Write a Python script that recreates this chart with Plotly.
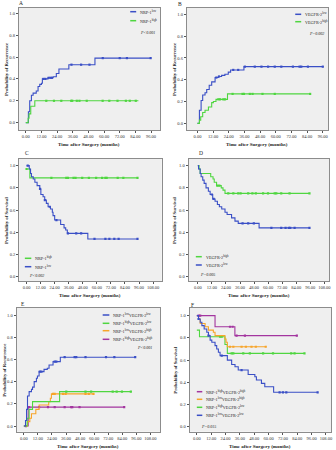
import plotly.graph_objects as go

W, H = 336, 450

# ---------------- data (months, probability) ----------------
# Panel A: recurrence by NRP-1
A_low_t = [0, 2, 3, 4.3, 5.6, 8, 9.4, 10.7, 12, 12.7, 17, 21, 23.4, 25.4, 33, 53]
A_low_v = [0, 0.10, 0.20, 0.25, 0.27, 0.29, 0.33, 0.35, 0.36, 0.40, 0.41, 0.42, 0.45, 0.49, 0.53, 0.59]
A_low_end = 95.7
A_low_c = [13.5, 15, 17.5, 19, 20, 35, 42.4, 48.8, 59, 72, 77.5, 95.7]
A_high_t = [0, 1.8, 2.5, 3.8, 6.9]
A_high_v = [0, 0.04, 0.08, 0.15, 0.20]
A_high_end = 86.3
A_high_c = [15.7, 21.6, 27.2, 34.8, 35.6, 39.1, 41.1, 46.7, 58.9, 64, 70.3, 76.7, 79.7, 84.3]

# Panel B: recurrence by VEGFR-2
B_low_t = [0, 1.5, 2.8, 4, 5.8, 7.1, 9, 10.9, 13.5, 16, 18.5, 21, 23.6, 25.4, 35.6]
B_low_v = [0, 0.12, 0.21, 0.26, 0.28, 0.31, 0.35, 0.38, 0.42, 0.43, 0.44, 0.45, 0.47, 0.49, 0.52]
B_low_end = 96
B_low_c = [14.5, 16.5, 27.4, 31.2, 36.3, 43.9, 49, 54.1, 59.2, 64.2, 73.1, 78.2, 79.5, 84.6, 96]
B_high_t = [0, 1.5, 2.5, 4, 5.8, 8.4, 10.9, 12.2, 14.2, 23]
B_high_v = [0, 0.03, 0.06, 0.10, 0.12, 0.15, 0.19, 0.20, 0.22, 0.27]
B_high_end = 86.3
B_high_c = [16, 17.3, 19.8, 21.1, 26.9, 34.5, 35.6, 40.1, 42.2, 49.8, 59.2, 86.3]

# Panel C: survival by NRP-1
C_high_t = [0, 2.8]
C_high_v = [0.97, 0.89]
C_high_end = 94.7
C_high_c = [0, 21.2, 33.9, 35.3, 40.1, 41.8, 47.5, 53.2, 59.4, 64.5, 67.3, 68.4, 77.8, 82.6, 94.7]
C_low_t = [0, 2.3, 3.4, 4.2, 5.7, 7.1, 9.0, 11.3, 12.2, 14.1, 15.5, 16.9, 18.4, 20.4, 22, 22.6, 24,
           29.1, 32.0, 33.4, 34.8, 52.3]
C_low_v = [1.0, 0.97, 0.93, 0.90, 0.88, 0.85, 0.82, 0.79, 0.74, 0.72, 0.69, 0.66, 0.63, 0.61, 0.58,
           0.55, 0.51, 0.47, 0.44, 0.42, 0.39, 0.34]
C_low_end = 94.7
C_low_c = [1.0, 11.5, 15.6, 19.8, 25.5, 35.3, 42.4, 46.6, 58, 67.3, 70.7, 74.9, 78.6, 94.7]

# Panel D: survival by VEGFR-2
D_high_t = [0, 1.1, 2, 11, 13, 14, 16, 20, 21.5, 23.2]
D_high_v = [1.0, 0.97, 0.93, 0.90, 0.88, 0.85, 0.82, 0.80, 0.78, 0.75]
D_high_end = 95.3
D_high_c = [16.7, 18.4, 26, 30.3, 34.5, 36.5, 43, 46.6, 49.5, 55.7, 59.9, 65.6, 67, 71.2, 78.3, 95.3]
D_low_t = [0, 0.6, 2, 2.8, 4.2, 5.4, 7, 9, 10.5, 12.7, 14.7, 16.7, 18.4, 20.4, 23.2, 25, 28.8,
           31.7, 34.5, 52.3]
D_low_v = [1.0, 0.97, 0.93, 0.90, 0.87, 0.84, 0.80, 0.77, 0.74, 0.70, 0.68, 0.65, 0.63, 0.61,
           0.58, 0.56, 0.53, 0.50, 0.48, 0.44]
D_low_end = 95.3
D_low_c = [12, 13.5, 38.2, 43, 47.8, 62.8, 71.2, 74.9, 77.7, 78.9, 82.6, 95.3]

# Panel E: recurrence by combined groups
E_ll_t = [0, 1.4, 2.3, 3.1, 4.5, 6.5, 7.4, 8.8, 10.7, 11.6, 13, 17.2, 20, 21.5, 24.9, 31.1]
E_ll_v = [0, 0.05, 0.15, 0.27, 0.31, 0.33, 0.35, 0.40, 0.43, 0.45, 0.49, 0.51, 0.52, 0.55, 0.58, 0.62]
E_ll_end = 95
E_ll_c = [13.6, 15, 26.3, 27.7, 34.8, 43.3, 44.7, 52.6, 70.1, 77.2, 95]
E_hl_t = [0, 2.8, 4.5, 7.4, 30.5]
E_hl_v = [0, 0.07, 0.15, 0.22, 0.31]
E_hl_end = 91.3
E_hl_c = [36.2, 52.6, 57.4, 75.8, 79.2, 83.7, 91.3]
E_lh_t = [0, 3.1, 5.1, 6.5, 10.2, 13, 21.2, 22.6, 23.5]
E_lh_v = [0, 0.04, 0.07, 0.11, 0.15, 0.19, 0.22, 0.25, 0.29]
E_lh_end = 59.4
E_lh_c = [24.9, 26.3, 33.4, 35.6, 52.6, 55.4, 59.4]
E_hh_t = [0, 3.7]
E_hh_v = [0, 0.17]
E_hh_end = 85.6
E_hh_c = [1.7, 4.5, 13, 20.6, 26.3, 34.8, 40.4, 41.3, 47.5, 85.6]

# Panel F: survival by combined groups
F_hh_t = [0, 15.2, 31.8]
F_hh_v = [1.0, 0.90, 0.82]
F_hh_end = 83.6
F_hh_c = [1.4, 2.8, 27.7, 29.9, 33.2, 40.2, 83.6]
F_lh_t = [0, 1.4, 2.8, 6.9, 9.7, 13.8, 15.2, 23.5, 24.4, 25.5]
F_lh_v = [1.0, 0.97, 0.93, 0.90, 0.87, 0.85, 0.82, 0.79, 0.76, 0.72]
F_lh_end = 57.6
F_lh_c = [27.7, 30.5, 37.4, 41, 45.7, 49.3, 57.6]
F_hl_t = [0, 2.2, 23.5, 25.5]
F_hl_v = [0.87, 0.81, 0.74, 0.66]
F_hl_end = 90
F_hl_c = [19.4, 20.8, 29.1, 30.5, 38.8, 44.3, 55.4, 63.7, 78.9, 81.7, 90]
F_ll_t = [0, 1.4, 2.8, 4.2, 6.1, 8.3, 9.7, 11.1, 12.5, 15.2, 16.6, 18, 19.4, 25.5, 29.1, 31.9,
          34.6, 42.9, 48.5, 49.8, 54, 56.8, 64.2]
F_ll_v = [1.0, 0.97, 0.94, 0.91, 0.88, 0.85, 0.82, 0.78, 0.76, 0.73, 0.70, 0.67, 0.64, 0.60,
          0.56, 0.54, 0.51, 0.47, 0.45, 0.42, 0.39, 0.36, 0.31]
F_ll_end = 101
F_ll_c = [1.4, 9.7, 20.8, 37.4, 69.2, 72, 74.8, 101]

X_TICKS_96 = [0, 12, 24, 36, 48, 60, 72, 84, 96]
X_TICKS_108 = [0, 12, 24, 36, 48, 60, 72, 84, 96, 108]
Y_TICKS = [0, 0.2, 0.4, 0.6, 0.8, 1.0]

BLUE = "#3a4fc6"
GREEN = "#4fd640"
ORANGE = "#f7a52a"
PURPLE = "#a3359f"

SERIF = "Liberation Serif, DejaVu Serif, serif"

fig = go.Figure()


def step_value(ts, vs, t):
    val = vs[0]
    for ti, vi in zip(ts, vs):
        if ti <= t:
            val = vi
    return val


def add_curve(k, ts, vs, end, cens, color):
    xs = list(ts) + [end]
    ys = list(vs) + [vs[-1]]
    ax = "" if k == 1 else str(k)
    fig.add_trace(go.Scatter(x=xs, y=ys, mode="lines", line=dict(color=color, width=1.1, shape="hv"),
                             xaxis="x" + ax, yaxis="y" + ax, showlegend=False, hoverinfo="skip"))
    cy = [step_value(ts, vs, c) for c in cens]
    fig.add_trace(go.Scatter(x=cens, y=cy, mode="markers",
                             marker=dict(symbol="square", size=2.2, color=color, line=dict(width=0)),
                             xaxis="x" + ax, yaxis="y" + ax, showlegend=False, hoverinfo="skip"))


add_curve(1, A_low_t, A_low_v, A_low_end, A_low_c, BLUE)
add_curve(1, A_high_t, A_high_v, A_high_end, A_high_c, GREEN)
add_curve(2, B_low_t, B_low_v, B_low_end, B_low_c, BLUE)
add_curve(2, B_high_t, B_high_v, B_high_end, B_high_c, GREEN)
add_curve(3, C_high_t, C_high_v, C_high_end, C_high_c, GREEN)
add_curve(3, C_low_t, C_low_v, C_low_end, C_low_c, BLUE)
add_curve(4, D_high_t, D_high_v, D_high_end, D_high_c, GREEN)
add_curve(4, D_low_t, D_low_v, D_low_end, D_low_c, BLUE)
add_curve(5, E_hh_t, E_hh_v, E_hh_end, E_hh_c, PURPLE)
add_curve(5, E_lh_t, E_lh_v, E_lh_end, E_lh_c, ORANGE)
add_curve(5, E_hl_t, E_hl_v, E_hl_end, E_hl_c, GREEN)
add_curve(5, E_ll_t, E_ll_v, E_ll_end, E_ll_c, BLUE)
add_curve(6, F_hl_t, F_hl_v, F_hl_end, F_hl_c, GREEN)
add_curve(6, F_lh_t, F_lh_v, F_lh_end, F_lh_c, ORANGE)
add_curve(6, F_hh_t, F_hh_v, F_hh_end, F_hh_c, PURPLE)
add_curve(6, F_ll_t, F_ll_v, F_ll_end, F_ll_c, BLUE)

# panel boxes in pixels: left, right, top, bottom ; x range ; y range ; ticks
panels = [
    (19, 161, 8, 130, [-5.3, 102.9], [-0.067, 1.048], X_TICKS_96),
    (188, 330, 8, 130, [-8.1, 100.0], [-0.061, 1.058], X_TICKS_96),
    (19.3, 162.7, 159, 281, [-6.3, 115.4], [-0.039, 1.06], X_TICKS_108),
    (189.7, 331, 159, 281, [-7.9, 112.0], [-0.039, 1.06], X_TICKS_108),
    (16.7, 161, 308, 431.7, [-6.2, 116.2], [-0.051, 1.063], X_TICKS_108),
    (190.7, 333, 308, 431.7, [-6.1, 112.2], [-0.045, 1.069], X_TICKS_108),
]

axis_common = dict(showline=True, mirror=True, linecolor="#8c8c8c", linewidth=1,
                   ticks="outside", ticklen=2, tickwidth=1, tickcolor="#555",
                   showgrid=False, zeroline=False,
                   tickfont=dict(family=SERIF, size=4.5, color="#333"))

layout = {}
for i, (l, r, t, b, xr, yr, xt) in enumerate(panels, start=1):
    s = "" if i == 1 else str(i)
    layout["xaxis" + s] = dict(domain=[l / W, r / W], range=xr, anchor="y" + s,
                               tickvals=xt, ticktext=["%.2f" % v for v in xt], **axis_common)
    layout["yaxis" + s] = dict(domain=[1 - b / H, 1 - t / H], range=yr, anchor="x" + s,
                               tickvals=Y_TICKS, ticktext=["%.1f" % v for v in Y_TICKS], **axis_common)

fig.update_layout(width=W, height=H, margin=dict(l=0, r=0, t=0, b=0),
                  paper_bgcolor="white", plot_bgcolor="#efefef", **layout)

shapes = []
annots = []


def px(x):
    return x / W


def py(y):
    return 1 - y / H


def text(x, y, s, size=4, bold=False, italic=False, xanchor="left", angle=0, color="#222"):
    if bold:
        s = "<b>" + s + "</b>"
    if italic:
        s = "<i>" + s + "</i>"
    annots.append(dict(x=px(x), y=py(y), xref="paper", yref="paper", text=s, showarrow=False,
                       xanchor=xanchor, yanchor="middle", textangle=angle,
                       font=dict(family=SERIF, size=size, color=color)))


def leg(x0, x1, y, color, label):
    shapes.append(dict(type="line", xref="paper", yref="paper", x0=px(x0), x1=px(x1),
                       y0=py(y), y1=py(y), line=dict(color=color, width=1.5)))
    text(x1 + 2, y, label, size=4.2)


# panel letters
for lx, ly, L in [(21, 3, "A"), (181, 4, "B"), (27, 153, "C"), (202, 153, "D"), (23, 304, "E"), (194, 305, "F")]:
    text(lx, ly, L, size=5.5, xanchor="center")

# axis titles
for (l, r, t, b, *_), ytitle, ty, yx in [
    (panels[0], "Probability of Recurrence", 144, 6),
    (panels[1], "Probability of Recurrence", 144, 175),
    (panels[2], "Probability of Survival", 295, 6),
    (panels[3], "Probability of Survival", 295, 175),
    (panels[4], "Probability of Recurrence", 446, 5),
    (panels[5], "Probability of Survival", 446, 177),
]:
    text((l + r) / 2, ty, "Time after Surgery (months)", size=5, bold=True, xanchor="center")
    text(yx, (t + b) / 2, ytitle, size=4.8, bold=True, xanchor="center", angle=-90)

# legends
leg(131, 137, 11.7, BLUE, "NRP-1<sup>low</sup>")
leg(131, 137, 20.7, GREEN, "NRP-1<sup>high</sup>")
text(139, 32.3, "P<0.001", italic=True)

leg(297, 303, 14.3, BLUE, "VEGFR-2<sup>low</sup>")
leg(297, 303, 21.7, GREEN, "VEGFR-2<sup>high</sup>")
text(309, 33.3, "P=0.002", italic=True)

leg(25, 31.5, 258.3, GREEN, "NRP-1<sup>high</sup>")
leg(25, 31.5, 266.7, BLUE, "NRP-1<sup>low</sup>")
text(27, 275, "P<0.002", italic=True)

leg(197, 203, 256.7, GREEN, "VEGFR-2<sup>high</sup>")
leg(197, 203, 265, BLUE, "VEGFR-2<sup>low</sup>")
text(199, 274, "P=0.005", italic=True)

leg(103.3, 110, 315, BLUE, "NRP-1<sup>low</sup>VEGFR-2<sup>low</sup>")
leg(103.3, 110, 323.3, GREEN, "NRP-1<sup>high</sup>VEGFR-2<sup>low</sup>")
leg(103.3, 110, 330.7, ORANGE, "NRP-1<sup>low</sup>VEGFR-2<sup>high</sup>")
leg(103.3, 110, 339.3, PURPLE, "NRP-1<sup>high</sup>VEGFR-2<sup>high</sup>")
text(136, 347.7, "P<0.001", italic=True)

leg(198, 203.5, 391.7, PURPLE, "NRP-1<sup>high</sup>VEGFR-2<sup>high</sup>")
leg(198, 203.5, 399.3, ORANGE, "NRP-1<sup>low</sup>VEGFR-2<sup>high</sup>")
leg(198, 203.5, 407.3, GREEN, "NRP-1<sup>high</sup>VEGFR-2<sup>low</sup>")
leg(198, 203.5, 415.3, BLUE, "NRP-1<sup>low</sup>VEGFR-2<sup>low</sup>")
text(200, 426, "P=0.015", italic=True)

fig.update_layout(shapes=shapes, annotations=annots)

fig.write_html("out.html", config={"displayModeBar": False},
               post_script="document.body.style.margin='0';document.body.style.padding='0';")
